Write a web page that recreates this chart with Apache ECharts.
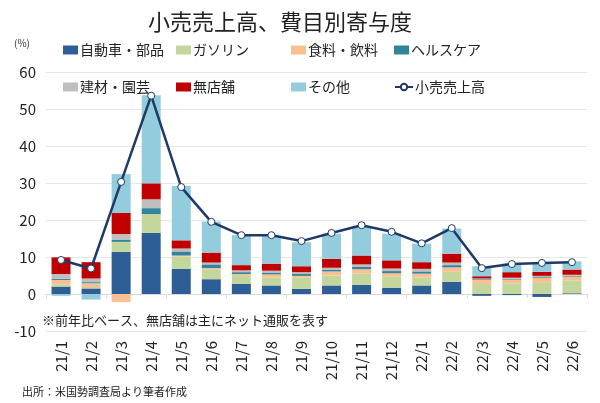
<!DOCTYPE html>
<html><head><meta charset="utf-8">
<script src="https://cdn.jsdelivr.net/npm/echarts@6/dist/echarts.min.js"></script>
<style>html,body{margin:0;padding:0;background:#fff}#c{width:600px;height:403px}</style>
</head><body><div id="c"></div>
<script>
const categories = ['21/1','21/2','21/3','21/4','21/5','21/6','21/7','21/8','21/9','21/10','21/11','21/12','22/1','22/2','22/3','22/4','22/5','22/6'];
const auto      = [2.0, 1.5, 11.4, 16.5, 6.8, 4.0, 2.7, 2.3, 1.4, 2.3, 2.5, 1.7, 2.3, 3.3, -0.5, -0.3, -0.8, 0.2];
const gasoline  = [0.6, 0.4, 2.7, 5.1, 3.3, 2.7, 2.4, 2.2, 3.0, 2.7, 3.0, 3.0, 2.2, 2.7, 2.7, 2.9, 3.0, 3.5];
const food      = [1.2, 1.0, -2.2, 0.0, 0.3, 0.3, 0.3, 0.8, 0.5, 1.1, 1.2, 0.9, 1.0, 1.2, 1.1, 1.0, 1.4, 1.0];
const health    = [0.3, 0.3, 0.5, 1.6, 1.1, 1.0, 0.5, 0.5, 0.5, 0.5, 0.6, 0.6, 0.6, 0.6, 0.2, 0.2, 0.2, 0.2];
const building  = [1.3, 1.0, 1.6, 2.4, 0.8, 0.5, 0.5, 0.5, 0.5, 0.5, 0.7, 0.7, 0.7, 0.7, 0.2, 0.3, 0.3, 0.3];
const nonstore  = [4.5, 4.4, 5.7, 4.3, 2.2, 2.7, 1.4, 1.9, 1.6, 2.4, 2.4, 2.2, 1.8, 2.4, 0.6, 1.5, 1.1, 1.4];
const other     = [-0.5, -1.5, 10.5, 23.8, 14.7, 8.4, 8.1, 7.6, 6.5, 6.8, 7.8, 7.2, 5.0, 6.8, 2.7, 2.4, 2.4, 2.2];
const total     = [9.2, 6.9, 30.3, 53.6, 28.9, 19.5, 15.9, 15.9, 14.3, 16.5, 18.6, 16.8, 13.7, 17.8, 7.0, 8.1, 8.4, 8.6];
const yTicks = [-10, 0, 10, 20, 30, 40, 50, 60];

const names = ['自動車・部品','ガソリン','食料・飲料','ヘルスケア','建材・園芸','無店舗','その他','小売売上高'];
const colors = ['#2E5E96','#C3D69B','#FAC08F','#31849B','#BFBFBF','#C00000','#93CDDD','#1F3A68'];
const barData = [auto, gasoline, food, health, building, nonstore, other];

const font = '"Noto Sans CJK JP", "Noto Sans", sans-serif';
const legendPos = [[58,38],[171,38],[286,38],[389,38],[58,75],[171,75],[286,75],[389,75]];

const series = barData.map((d, i) => ({
  name: names[i], type: 'bar', stack: 'a', data: d, barWidth: 19,
  itemStyle: { color: colors[i] }, xAxisIndex: 0
}));
series.push({
  name: names[7], type: 'line', data: total, xAxisIndex: 0,
  lineStyle: { color: colors[7], width: 2.5 },
  itemStyle: { color: '#fff', borderColor: colors[7], borderWidth: 1 },
  symbol: 'circle', symbolSize: 7, z: 10
});

const chart = echarts.init(document.getElementById('c'), null, { renderer: 'canvas' });
chart.setOption({
  animation: false,
  textStyle: { fontFamily: font },
  title: { text: '小売売上高、費目別寄与度', left: 143, top: 6,
    textStyle: { fontSize: 22, fontWeight: 'normal', color: '#222', fontFamily: font } },
  graphic: [
    { type: 'text', left: 14, top: 38, style: { text: '(%)', fontSize: 10, fill: '#333', fontFamily: font } },
    { type: 'text', left: 42, top: 314, style: { text: '※前年比ベース、無店舗は主にネット通販を表す', fontSize: 13, fill: '#222', fontFamily: font } },
    { type: 'text', left: 22, top: 386, style: { text: '出所：米国勢調査局より筆者作成', fontSize: 11, fill: '#222', fontFamily: font } }
  ],
  legend: names.map((n, i) => ({
    data: i === 7 ? [n] : [{ name: n, icon: 'rect' }], left: legendPos[i][0], top: legendPos[i][1],
    itemWidth: i === 7 ? 18 : 15, itemHeight: i === 7 ? 8 : 9, itemGap: 3,
    textStyle: { fontSize: 14, color: '#222', fontFamily: font, padding: [0,0,0,-3] }
  })),
  grid: { left: 46, right: 13, top: 72, bottom: 72, containLabel: false },
  xAxis: [
    { type: 'category', data: categories, position: 'bottom',
      axisLine: { onZero: true, lineStyle: { color: '#D9D9D9' } },
      axisTick: { show: true, length: 4, lineStyle: { color: '#D9D9D9' } },
      axisLabel: { show: false } },
    { type: 'category', data: categories, position: 'bottom',
      axisLine: { show: false, onZero: false }, axisTick: { show: false },
      axisLabel: { rotate: 90, fontSize: 15, color: '#222', margin: 10, fontFamily: font } }
  ],
  yAxis: { type: 'value', min: -10, max: 60, interval: 10,
    axisLine: { show: false }, axisTick: { show: false },
    axisLabel: { fontSize: 15, color: '#222', margin: 10, fontFamily: font },
    splitLine: { lineStyle: { color: '#E6E6E6' } } },
  series: series
});
</script></body></html>
